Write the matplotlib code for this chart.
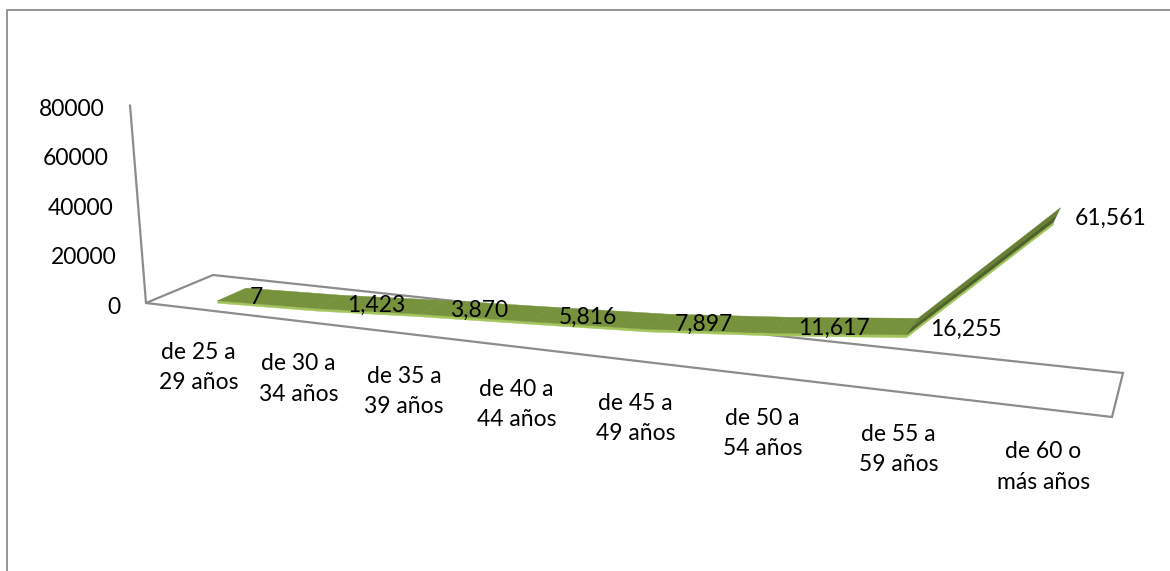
#!/usr/bin/env python

from matplotlib import pyplot as plt
import numpy as np

categories = ['de 25 a\n29 años', 'de 30 a\n34 años', 'de 35 a\n39 años', 'de 40 a\n44 años',
              'de 45 a\n49 años', 'de 50 a\n54 años', 'de 55 a\n59 años', 'de 60 o\nmás años']
values = [7, 1423, 3870, 5816, 7897, 11617, 16255, 61561]
value_ticks = [0, 20000, 40000, 60000, 80000]

W, H = 1170, 571
GREY = '#8c8c8c'
FLOOR_CORNERS = np.array([[146, 303], [1112, 417], [1123, 373], [213, 275]], dtype=float)
VMAX = 80000
AXIS_PX = 198.0
VANISH = np.array([800.0, 8400.0])
DEPTH_FRONT, DEPTH_MID, DEPTH_BACK = 0.28, 0.5, 0.72
CAT_SHIFT = 0.05


# floor plane homography, unit square to the picture
def floor_matrix():
    src = [(0, 0), (1, 0), (1, 1), (0, 1)]
    rows, rhs = [], []
    for (u, d), (x, y) in zip(src, FLOOR_CORNERS):
        rows.append([u, d, 1, 0, 0, 0, -u * x, -d * x])
        rows.append([0, 0, 0, u, d, 1, -u * y, -d * y])
        rhs += [x, y]
    return np.append(np.linalg.solve(np.array(rows), np.array(rhs)), 1).reshape(3, 3)


FLOOR = floor_matrix()


def project(cat, value, depth):
    """category index, value and depth (0 front, 1 back) to picture pixels"""
    u = (np.asarray(cat, dtype=float) + 0.5) / len(categories)
    depth = np.broadcast_to(depth, u.shape)
    p = FLOOR @ np.array([u, depth, np.ones_like(u)])
    xy = p[:2] / p[2]
    # the value axis leans away from the vertical vanishing point and grows with nearness
    scale = AXIS_PX * (1 + (xy[1] - FLOOR_CORNERS[0, 1]) / 650)
    away = xy - VANISH[:, None]
    xy = xy + away / np.linalg.norm(away, axis=0) * scale * np.asarray(value) / VMAX
    return xy.T


def quad(ax, a, b, i, color):
    ax.fill([a[i, 0], a[i + 1, 0], b[i + 1, 0], b[i, 0]],
            [a[i, 1], a[i + 1, 1], b[i + 1, 1], b[i, 1]], fc=color, ec=color, lw=0.3)


def main():
    fig = plt.figure(figsize=(W / 100, H / 100), dpi=100)
    ax = fig.add_axes([0, 0, 1, 1])
    ax.set_xlim(0, W)
    ax.set_ylim(H, 0)
    ax.axis('off')
    plt.rcParams['font.family'] = ['Lato', 'DejaVu Sans']
    fs = 16.5

    # chart area border
    ax.plot([6.5, 6.5, W], [H, 9.5, 9.5], color=GREY, lw=1.3)

    # floor and value axis
    ax.fill(FLOOR_CORNERS[:, 0], FLOOR_CORNERS[:, 1], fc='none', ec=GREY, lw=1.6)
    top = project([-0.5], [VMAX], 0.0)[0]
    ax.plot([FLOOR_CORNERS[0, 0], top[0]], [FLOOR_CORNERS[0, 1], top[1]], color=GREY, lw=1.6)

    for v in value_ticks:
        p = project([-0.5], [v], 0.0)[0]
        ax.text(p[0] - 25, p[1] + 4, str(v), ha='right', va='center', fontsize=fs, color='black')

    # the ribbon, one quad per segment
    idx = np.arange(len(values)) + CAT_SHIFT
    front = project(idx, values, DEPTH_FRONT)
    mid = project(idx, values, DEPTH_MID)
    back = project(idx, values, DEPTH_BACK)
    lip = project(idx, np.array(values) - 1000, DEPTH_FRONT)
    for i in range(len(values) - 1):
        quad(ax, lip, front, i, '#a3c55c')
        if i < 6:
            quad(ax, front, back, i, '#76923c')
        else:
            # the steep last segment is seen almost edge on
            quad(ax, front, mid, i, '#4f6228')
            quad(ax, mid, back, i, '#667f35')

    # data labels
    for i, v in enumerate(values):
        p = (front[i] + back[i]) / 2
        ax.text(p[0] + 18, p[1] + 3, f'{v:,}', ha='left', va='center', fontsize=fs, color='black')

    # category labels
    for i, c in enumerate(categories):
        p = project([i + CAT_SHIFT], [0], 0.0)[0]
        ax.text(p[0], p[1] + 58, c, ha='center', va='center', fontsize=fs, color='black', linespacing=1.55)

    fig.savefig('out.png', dpi=100)


if __name__ == "__main__":
    main()
